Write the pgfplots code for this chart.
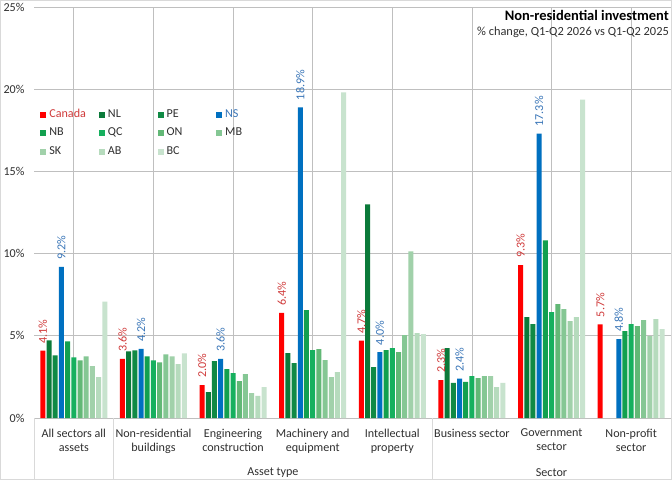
\documentclass[border=0pt]{standalone}
\usepackage{pgfplots}
\usepackage{pgfplotstable}
\pgfplotsset{compat=1.18}
\usepackage{fontspec}
\setmainfont{Carlito}
\definecolor{cCA}{HTML}{FF0000}
\definecolor{cNL}{HTML}{0B7A3A}
\definecolor{cPE}{HTML}{108A45}
\definecolor{cNS}{HTML}{0070C0}
\definecolor{cNB}{HTML}{12A04F}
\definecolor{cQC}{HTML}{16B05E}
\definecolor{cON}{HTML}{62B876}
\definecolor{cMB}{HTML}{85C794}
\definecolor{cSK}{HTML}{A1D1AA}
\definecolor{cAB}{HTML}{B6DBBD}
\definecolor{cBC}{HTML}{C8E3CE}
\definecolor{tCA}{HTML}{D03A3A}
\definecolor{tNS}{HTML}{3A76B8}
\definecolor{grid}{HTML}{D9D9D9}
\definecolor{txt}{HTML}{303030}

\pgfplotstableread{
x CA NL PE NS NB QC ON MB SK AB BC
0 4.1 4.72 3.81 9.2 4.66 3.69 3.51 3.75 3.15 2.48 7.08
1 3.6 4.05 4.11 4.2 3.75 3.51 3.39 3.87 3.75 3.27 3.93
2 2.0 1.58 3.46 3.6 2.98 2.73 2.25 2.67 1.52 1.34 1.88
3 6.4 3.95 3.34 18.9 6.56 4.13 4.19 3.52 2.49 2.79 19.8
4 4.7 13.0 3.10 4.0 4.13 4.25 4.01 5.04 10.14 5.16 5.10
5 2.3 4.25 2.13 2.4 2.19 2.55 2.43 2.55 2.55 1.88 2.13
6 9.3 6.13 5.71 17.3 10.81 6.44 6.92 6.62 5.89 6.13 19.37
7 5.7 nan nan 4.8 5.28 5.71 5.59 5.95 4.98 6.01 5.40
}\data

\newcommand{\fs}{\fontsize{12.1bp}{14bp}\selectfont}
\newcommand{\lb}[1]{\makebox[49.6bp][l]{#1}}

\begin{document}
\begin{tikzpicture}
\useasboundingbox (0bp,0bp) rectangle (672bp,480bp);
\fill[white] (0bp,0bp) rectangle (672bp,480bp);
\begin{axis}[
  at={(34bp,62bp)}, anchor=south west,
  scale only axis, width=637bp, height=411bp,
  xmin=-0.5, xmax=7.5, ymin=0, ymax=25,
  clip=false,
  axis line style={draw=none},
  major tick length=0pt,
  ymajorgrids, grid style={grid, line width=0.8bp},
  ytick={0,5,10,15,20,25},
  /pgf/number format/assume math mode=true,
  yticklabel={\pgfmathprintnumber{\tick}\%},
  yticklabel style={font=\fs, text=txt, xshift=-6bp},
  xtick={0,...,7},
  xticklabels={{All sectors all\\assets},{Non-residential\\buildings},{Engineering\\construction},{Machinery and\\equipment},{Intellectual\\property},{Business sector},{Government\\sector},{Non-profit\\sector}},
  xticklabel style={font=\fs, text=txt, align=center, anchor=north, yshift=-7.5bp},
  ybar=1.2bp, bar width=5bp,
  every axis plot post/.append style={draw=none,
    legend image code/.code={\fill[##1] (0bp,-3bp) rectangle (6bp,3bp);}},
  legend columns=4,
  legend style={at={(0.005,0.756)}, anchor=north west, draw=none, fill=none,
    font=\fs, text=txt,
    nodes={inner sep=0pt, text height=8bp, text depth=2.5bp},
    row sep=8bp,
    /tikz/every odd column/.style={column sep=3bp},
    /tikz/every even column/.style={column sep=0bp}},
  lbl/.style={nodes near coords={\pgfmathprintnumber[fixed,fixed zerofill,precision=1]{\pgfplotspointmeta}\%},
    point meta=y,
    every node near coord/.append style={rotate=90, anchor=west, font=\fs, text=#1, inner xsep=7bp, inner ysep=1bp}},
]
\addplot[fill=cCA, lbl=tCA] table[x=x,y=CA]{\data};
\addlegendentry{\lb{\textcolor{tCA}{Canada}}}
\addplot[fill=cNL] table[x=x,y=NL]{\data};
\addlegendentry{\lb{NL}}
\addplot[fill=cPE] table[x=x,y=PE]{\data};
\addlegendentry{\lb{PE}}
\addplot[fill=cNS, lbl=tNS] table[x=x,y=NS]{\data};
\addlegendentry{\lb{\textcolor{tNS}{NS}}}
\addplot[fill=cNB] table[x=x,y=NB]{\data};
\addlegendentry{\lb{NB}}
\addplot[fill=cQC] table[x=x,y=QC]{\data};
\addlegendentry{\lb{QC}}
\addplot[fill=cON] table[x=x,y=ON]{\data};
\addlegendentry{\lb{ON}}
\addplot[fill=cMB] table[x=x,y=MB]{\data};
\addlegendentry{\lb{MB}}
\addplot[fill=cSK] table[x=x,y=SK]{\data};
\addlegendentry{\lb{SK}}
\addplot[fill=cAB] table[x=x,y=AB]{\data};
\addlegendentry{\lb{AB}}
\addplot[fill=cBC] table[x=x,y=BC]{\data};
\addlegendentry{\lb{BC}}
\end{axis}
% category separators and second-level labels
\draw[grid, line width=0.8bp] (34bp,62bp) -- (34bp,1bp);
\draw[grid, line width=0.8bp] (113.6bp,62bp) -- (113.6bp,1bp);
\draw[grid, line width=0.8bp] (432.1bp,62bp) -- (432.1bp,1bp);
\node[font=\fs, text=txt] at (272.9bp,7.5bp) {Asset type};
\node[font=\fs, text=txt] at (551.5bp,7.5bp) {Sector};
% title
\node[anchor=base east, font=\fontsize{14.5bp}{16bp}\selectfont\bfseries, inner sep=0pt] at (669bp,459bp) {Non-residential investment};
\node[anchor=base east, font=\fontsize{12.4bp}{14bp}\selectfont, text=txt, inner sep=0pt] at (669bp,444bp) {\% change, Q1-Q2 2026 vs Q1-Q2 2025};
% outer border
\draw[grid, line width=1bp] (0.5bp,0.5bp) rectangle (671.5bp,479.5bp);
\end{tikzpicture}
\end{document}
